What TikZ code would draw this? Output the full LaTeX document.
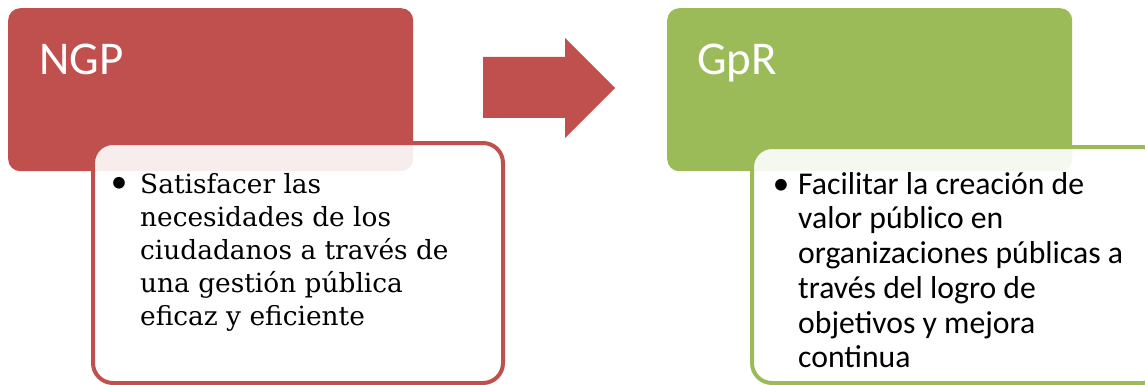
\documentclass[tikz,border=0pt]{standalone}
\usepackage{fontspec}
\setmainfont{Carlito}
\newfontfamily\serifx{DejaVu Serif}
\definecolor{redc}{HTML}{C0504D}
\definecolor{greenc}{HTML}{9BBB59}
\begin{document}
\begin{tikzpicture}[x=1pt,y=-1pt,
  header/.style={rounded corners=12pt, minimum width=405pt, minimum height=163pt, inner sep=0pt, anchor=north west},
  card/.style={fill=white, fill opacity=0.9, line width=4pt, rounded corners=20pt, inner sep=0pt, anchor=north west},
  title/.style={anchor=base west, inner sep=0pt, text=white, font=\fontsize{47}{50}\selectfont},
  bulletmark/.style={anchor=base, inner sep=0pt, font=\fontsize{33}{36}\selectfont},
  bodytext/.style={anchor=north west, inner sep=0pt, align=left}]
\clip (0,0) rectangle (1145,385);
\node[header, fill=redc] (ngp) at (8,8) {};
\node[title] (ngpt) at (39,75) {NGP};
\fill[redc] (483,57) -- (565,57) -- (565,38) -- (615,88) -- (565,138) -- (565,118) -- (483,118) -- cycle;
\node[card, draw=redc, minimum width=410pt, minimum height=240pt] (c1) at (91,141) {};
\node[bulletmark] (b1) at (119,192) {•};
\node[bodytext, font=\serifx\fontsize{26.4}{33}\selectfont] (t1) at (140,173) {Satisfacer las\\necesidades de los\\ciudadanos a través de\\una gestión pública\\eficaz y eficiente};
\node[header, fill=greenc] (gpr) at (667,8) {};
\node[title] (gprt) at (697,75) {GpR};
\node[card, draw=greenc, minimum width=410pt, minimum height=236pt] (c2) at (750,145) {};
\node[bulletmark] (b2) at (781,194) {•};
\node[bodytext, font=\fontsize{31.7}{34.7}\selectfont] (t2) at (798,172) {Facilitar la creación de\\valor público en\\organizaciones públicas a\\través del logro de\\objetivos y mejora\\continua};
\end{tikzpicture}
\end{document}
